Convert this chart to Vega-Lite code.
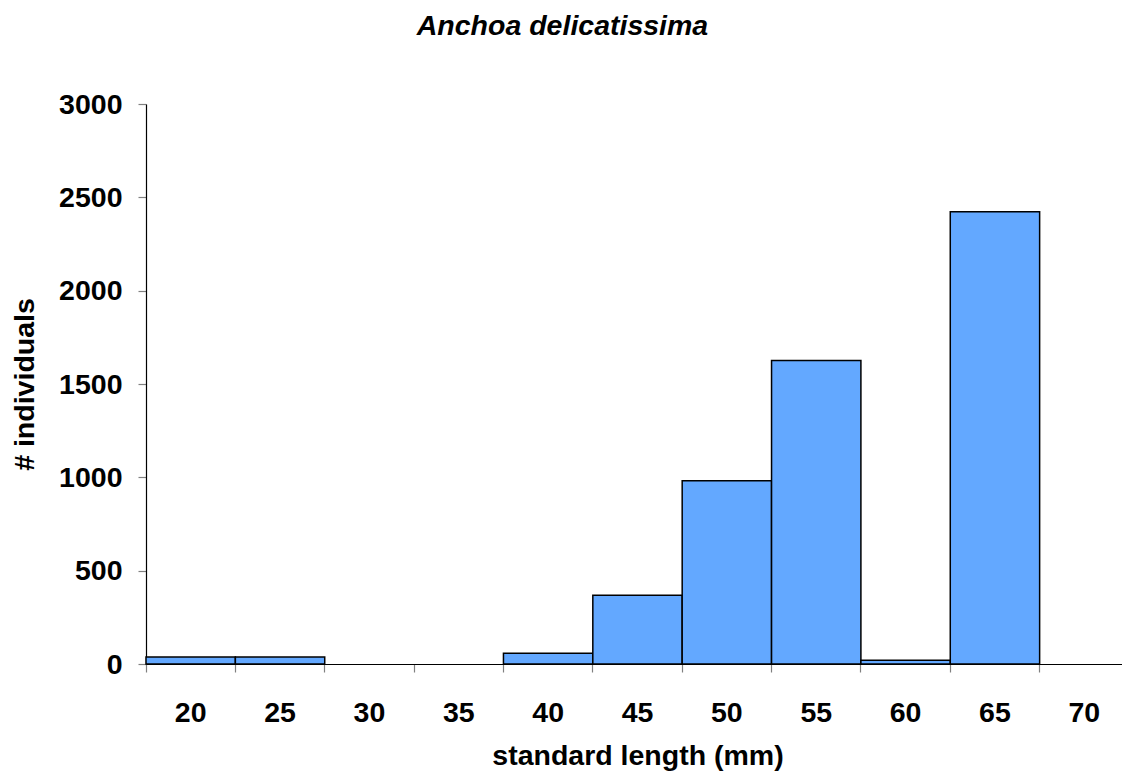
{
  "$schema": "https://vega.github.io/schema/vega-lite/v6.json",
  "autosize": {"type": "none"},
  "padding": {"left": 146, "top": 104, "right": 0, "bottom": 114},
  "width": 983,
  "height": 560,
  "background": "white",
  "title": {
    "text": "Anchoa delicatissima",
    "font": "Liberation Sans",
    "fontSize": 28.5,
    "fontWeight": "bold",
    "fontStyle": "italic",
    "color": "black",
    "anchor": "middle",
    "baseline": "alphabetic",
    "offset": 27,
    "dx": -75
  },
  "data": {
    "values": [
      {"length": 20, "count": 37},
      {"length": 25, "count": 37},
      {"length": 40, "count": 57},
      {"length": 45, "count": 368},
      {"length": 50, "count": 982},
      {"length": 55, "count": 1626},
      {"length": 60, "count": 20},
      {"length": 65, "count": 2423}
    ]
  },
  "mark": {"type": "bar", "fill": "#63A8FF", "stroke": "black", "strokeWidth": 1.5},
  "encoding": {
    "x": {
      "field": "length",
      "type": "ordinal",
      "scale": {"domain": [20, 25, 30, 35, 40, 45, 50, 55, 60, 65, 70], "paddingInner": 0, "paddingOuter": 0},
      "axis": {
        "title": "standard length (mm)",
        "labelAngle": 0,
        "bandPosition": 0,
        "labelBaseline": "top",
        "labelPadding": 26,
        "tickSize": 8,
        "titleY": 100,
        "titleBaseline": "alphabetic"
      }
    },
    "y": {
      "field": "count",
      "type": "quantitative",
      "scale": {"domain": [0, 3000], "nice": false},
      "axis": {
        "title": "# individuals",
        "values": [0, 500, 1000, 1500, 2000, 2500, 3000],
        "format": "d",
        "grid": false,
        "tickSize": 8,
        "labelPadding": 16,
        "titleX": -113,
        "titleY": 280,
        "titleBaseline": "alphabetic"
      }
    }
  },
  "config": {
    "view": {"stroke": null},
    "axis": {
      "domainColor": "black",
      "domainWidth": 1.2,
      "tickColor": "#808080",
      "tickWidth": 1.2,
      "labelFont": "Liberation Sans",
      "labelFontSize": 28.5,
      "labelFontWeight": "bold",
      "labelColor": "black",
      "titleFont": "Liberation Sans",
      "titleFontSize": 28.5,
      "titleFontWeight": "bold",
      "titleColor": "black",
      "labelOverlap": false
    }
  }
}
